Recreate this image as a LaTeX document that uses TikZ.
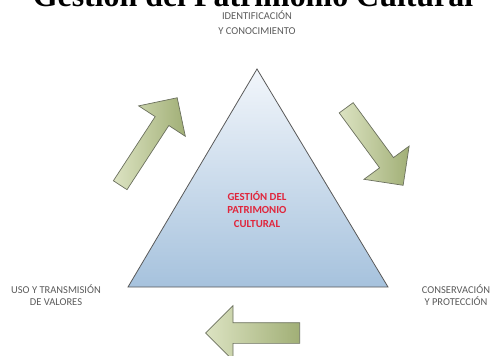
\documentclass[tikz,border=0pt]{standalone}
\usepackage{fontspec}
\setmainfont{Carlito}
\newfontfamily\titlefont{Liberation Serif}
\usepackage{xcolor}
\usetikzlibrary{shapes.arrows}
\definecolor{labelGray}{HTML}{5A5A5A}
\definecolor{centerRed}{HTML}{E0263C}
\definecolor{arrowLight}{HTML}{DCE3C2}
\definecolor{arrowDark}{HTML}{A1AF76}
\definecolor{arrowEdge}{HTML}{6B705E}
\definecolor{triTop}{HTML}{F2F6FB}
\definecolor{triBottom}{HTML}{A6C2DD}
\tikzset{myLabel/.style={text=labelGray, align=center, font=\fontsize{10.5}{#1}\selectfont}}
\tikzset{myArrow/.style={single arrow, draw=arrowEdge, line width=0.7pt, left color=arrowLight, right color=arrowDark, single arrow tip angle=90, inner xsep=0pt, anchor=tail}}
\tikzset{myTriangle/.style={draw=black!65, line width=0.8pt, top color=triTop, bottom color=triBottom}}

\begin{document}
\begin{tikzpicture}[x=1pt, y=-1pt]
\useasboundingbox (0, 0) rectangle (491, 356);

\node[font=\titlefont\bfseries\fontsize{31.9}{34}\selectfont, anchor=base, inner sep=0pt] (title) at (253, 6.5) {Gestión del Patrimonio Cultural};

\coordinate (apex) at (257, 69);
\coordinate (baseL) at (128, 287);
\coordinate (baseR) at (388, 287);
\draw[myTriangle] (apex) -- (baseL) -- (baseR) -- cycle;

\node[text=centerRed, align=center, font=\bfseries\fontsize{10.8}{13.5}\selectfont] (gestion) at (257, 209.5) {GESTIÓN DEL\\PATRIMONIO\\CULTURAL};

\node[myLabel=15] (ident) at (257, 23) {IDENTIFICACIÓN\\Y CONOCIMIENTO};
\node[myLabel=12.5] (uso) at (56, 295) {USO Y TRANSMISIÓN\\DE VALORES};
\node[myLabel=12.5] (conserv) at (456, 295) {CONSERVACIÓN\\Y PROTECCIÓN};

% flechas del ciclo
\node[myArrow, rotate=56.9, minimum height=104.4, inner ysep=7.8, single arrow head extend=19.7] (arrUp) at (120, 185.5) {};
\node[myArrow, rotate=-53.7, minimum height=96.2, inner ysep=8.3, single arrow head extend=19.4] (arrDown) at (346, 107.5) {};
\node[myArrow, rotate=180, minimum height=94, inner ysep=10, single arrow head extend=17] (arrBack) at (300, 333) {};

\end{tikzpicture}
\end{document}
